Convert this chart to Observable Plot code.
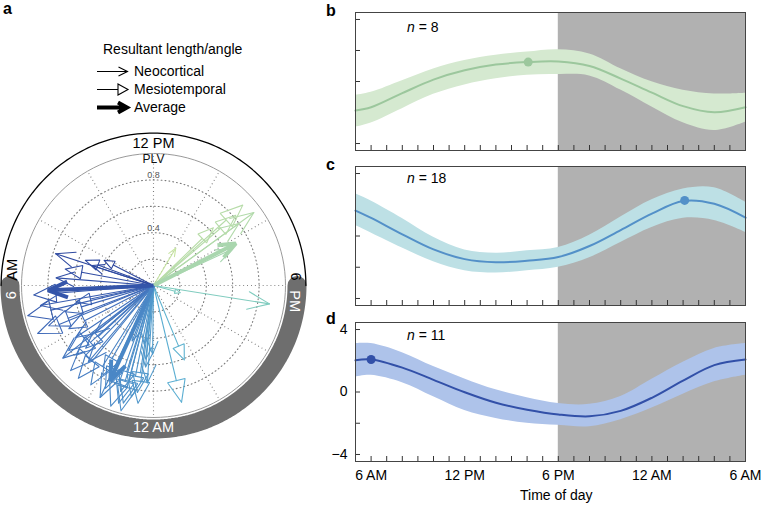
<!DOCTYPE html>
<html><head><meta charset="utf-8">
<script src="https://cdn.jsdelivr.net/npm/d3@7"></script>
<script src="https://cdn.jsdelivr.net/npm/@observablehq/plot@0.6"></script>
<style>
body{margin:0;background:#fff;font-family:"Liberation Sans",Arial,sans-serif;}
#root{position:relative;width:761px;height:505px;overflow:hidden;background:#fff;}
.abs{position:absolute;white-space:nowrap;line-height:1;}
.letter{font-weight:bold;font-size:16px;}
.t14{font-size:14px;}
</style></head><body><div id="root"></div>
<script>
// ---------- DATA: polar panel (a) ----------
// Neocortical resultants: clock hour of angle (unwrapped past 24), PLV length
const neoHour = [14.05, 15.6, 15.6, 16.35, 18.6, 24.05, 24.37, 25.7, 25.4, 24.6, 31.2, 30.3, 31.2, 29.33, 24.24, 24.4, 27.75, 27.4, 26.7, 27.42];
const neoPLV  = [0.33, 0.94, 0.80, 0.66, 0.89, 0.52, 0.62, 0.94, 0.45, 0.45, 0.78, 0.74, 0.49, 0.87, 0.74, 0.56, 0.71, 0.57, 0.76, 0.88];
// Mesiotemporal resultants
const mesHour = [15.07, 15.2, 15.3, 19.0, 22.5, 23.1, 24.57, 24.97, 24.96, 27.5, 27.2, 25.97, 25.67, 25.3, 25.1, 25.15, 24.75, 24.5, 27.15, 26.95, 26.6, 26.15, 31.35, 31.8, 30.7, 29.7, 29.1, 28.5, 28.6, 28.9, 28.2, 29.2];
const mesPLV  = [0.63, 0.91, 0.82, 0.21, 0.61, 0.91, 0.82, 0.98, 0.92, 0.81, 0.79, 0.78, 0.86, 0.97, 0.93, 0.84, 0.86, 0.90, 0.70, 0.90, 0.905, 0.89, 0.55, 0.42, 0.68, 0.91, 0.98, 0.95, 0.85, 0.70, 0.72, 0.60];
// Averages
const avgHour = [16.2, 25.63, 29.82];
const avgPLV  = [0.70, 0.79, 0.80];
// colour by angle (hour)
const colorHours = [14, 16, 18.8, 23, 25.5, 28, 30, 32];
const colorRange = ["#c8e4a2", "#acd7ad", "#7ecbc0", "#5cb0d2", "#4a88c7", "#4170bd", "#3352a8", "#2c459c"];
const gridPLV = [0.2, 0.4, 0.6, 0.8];
const plvTickLabels = [0.4, 0.8];
const spokeHours = [0, 2, 4, 6, 8, 10, 12, 14, 16, 18, 20, 22];
const ringText  = ["12 PM", "12 AM", "AM", "6", "6", "PM"];
const ringHour  = [12, 24, 6.42, 5.74, 17.76, 18.42];
const ringWhite = [false, true, false, true, false, true];
const ringRot   = [0, 0, -90, -90, 90, 90];

// ---------- DATA: time-course panels (b, c, d) ----------
const hours = [5, 6, 8, 10, 12, 14, 16, 18, 20, 22, 24, 26, 28, 30];
const bMean = [-1.87, -1.66, -0.75, 0.12, 0.72, 1.09, 1.25, 1.29, 1.00, 0.19, -0.72, -1.59, -1.98, -1.66];
const bHi   = [-0.90, -0.70, 0.05, 0.81, 1.35, 1.69, 1.90, 2.05, 1.78, 0.83, -0.02, -0.56, -0.80, -0.75];
const bLo   = [-2.95, -2.68, -1.75, -0.83, -0.22, 0.18, 0.41, 0.45, 0.36, -0.55, -1.64, -2.66, -3.16, -2.62];
const cMean = [1.63, 1.16, 0.11, -0.86, -1.48, -1.68, -1.58, -1.35, -0.64, 0.38, 1.43, 2.24, 2.06, 1.17];
const cHi   = [2.70, 2.24, 1.12, -0.08, -0.89, -1.10, -0.95, -0.74, 0.05, 1.22, 2.32, 3.01, 3.09, 2.17];
const cLo   = [0.67, 0.20, -0.77, -1.65, -2.22, -2.37, -2.22, -2.00, -1.39, -0.42, 0.54, 1.13, 1.00, 0.24];
const dMean = [2.03, 2.08, 1.56, 0.78, -0.02, -0.69, -1.13, -1.44, -1.56, -1.21, -0.37, 0.73, 1.72, 2.08];
const dHi   = [3.10, 3.10, 2.52, 1.63, 0.84, 0.14, -0.37, -0.74, -0.79, -0.29, 0.81, 1.90, 2.79, 3.10];
const dLo   = [0.96, 1.07, 0.60, -0.30, -1.19, -1.69, -2.00, -2.13, -2.22, -1.77, -1.03, -0.14, 0.65, 1.07];
const peakHour = [16.07, 26.1, 6.0];
const peakVal  = [1.25, 2.28, 2.08];
const nCounts = [8, 18, 11];
const xTickHours = [6, 12, 18, 24, 30];
const xTickLabels = ["6 AM", "12 PM", "6 PM", "12 AM", "6 AM"];
const minorTickHours = [6,7,8,9,10,11,12,13,14,15,16,17,18,19,20,21,22,23,24,25,26,27,28,29];
const yTicks = [-4, -2, 0, 2, 4];
const yTickLabeled = [-4, 0, 4];
const nightStart = 18, nightEnd = 30;
const xDomain = [5, 30], yDomain = [-4.45, 4.45];

const root = document.getElementById("root");
const FONT = "Liberation Sans, Arial, sans-serif";
function place(el, left, top) { el.style.position = "absolute"; el.style.left = left + "px"; el.style.top = top + "px"; root.appendChild(el); return el; }
function html(cls, text, left, top) { const d = document.createElement("div"); d.className = "abs " + cls; d.innerHTML = text; return place(d, left, top); }

// ---------- polar panel ----------
const S = 132, CX = 153, CY = 155;
function pol(h, r) { const t = (h - 12) / 24 * 2 * Math.PI; return [r * Math.sin(t), r * Math.cos(t)]; }
const HEAD = 0.2, HALF = 22 * Math.PI / 180;
function head(h, r) {
  const [tx, ty] = pol(h, r);
  const L = Math.max(r * HEAD, 0.045);
  const ux = -tx / r, uy = -ty / r;
  const rot = a => [tx + L * (ux * Math.cos(a) - uy * Math.sin(a)), ty + L * (ux * Math.sin(a) + uy * Math.cos(a))];
  return {tip: [tx, ty], b1: rot(HALF), b2: rot(-HALF), base: [tx + L * Math.cos(HALF) * ux, ty + L * Math.cos(HALF) * uy], u: [ux, uy]};
}
const pt = (p, z, hour) => ({x: p[0], y: p[1], z, hour});
const neoRows = neoHour.flatMap((h, i) => { const g = head(h, neoPLV[i]);
  return [pt([0,0], "ns"+i, h), pt(g.tip, "ns"+i, h), pt(g.b1, "nh"+i, h), pt(g.tip, "nh"+i, h), pt(g.b2, "nh"+i, h)]; });
const mesRows = mesHour.flatMap((h, i) => { const g = head(h, mesPLV[i]);
  return [pt([0,0], "ms"+i, h), pt(g.base, "ms"+i, h), pt(g.tip, "mt"+i, h), pt(g.b1, "mt"+i, h), pt(g.b2, "mt"+i, h), pt(g.tip, "mt"+i, h)]; });
const avgRows = avgHour.flatMap((h, i) => { const g = head(h, avgPLV[i]);
  const end = [g.tip[0] + 0.02 * g.u[0], g.tip[1] + 0.02 * g.u[1]];
  return [pt([0,0], "as"+i, h), pt(end, "as"+i, h), pt(g.b1, "ah"+i, h), pt(g.tip, "ah"+i, h), pt(g.b2, "ah"+i, h)]; });
const circleSteps = d3.range(0, 24.001, 0.2);
const gridRows = gridPLV.flatMap(r => circleSteps.map(h => { const p = pol(h, r); return {x: p[0], y: p[1], r}; }));
const unitRows = circleSteps.map(h => { const p = pol(h, 1); return {x: p[0], y: p[1]}; });
const bandR = 143.5 / S, arcR = 152.4 / S, labR = 142 / S;
const bandRows = d3.range(nightStart, nightEnd + 0.001, 0.1).map(h => { const p = pol(h, bandR); return {x: p[0], y: p[1]}; });
const arcRows = d3.range(6, 18.001, 0.1).map(h => { const p = pol(h, arcR); return {x: p[0], y: p[1]}; });
const ringRows = ringText.map((t, i) => ({t, h: ringHour[i], white: ringWhite[i], rot: ringRot[i]}));
const DOTS = "0.9,3";

const polar = Plot.plot({
  width: 310, height: 316, margin: 0,
  x: {domain: [-1, 1], range: [CX - S, CX + S], axis: null},
  y: {domain: [-1, 1], range: [CY + S, CY - S], axis: null},
  color: {type: "linear", domain: colorHours, range: colorRange, interpolate: "rgb"},
  style: {fontFamily: FONT, fontSize: "14px", background: "transparent", overflow: "visible"},
  marks: [
    Plot.line(gridRows, {x: "x", y: "y", z: "r", stroke: "#7a7a7a", strokeWidth: 1.1, strokeDasharray: DOTS}),
    Plot.link(spokeHours, {x1: 0, y1: 0, x2: h => pol(h, 1)[0], y2: h => pol(h, 1)[1], stroke: "#7a7a7a", strokeWidth: 1.1, strokeDasharray: DOTS}),
    Plot.line(unitRows, {x: "x", y: "y", stroke: "#9a9a9a", strokeWidth: 1}),
    Plot.line(bandRows, {x: "x", y: "y", stroke: "#6e6e6e", strokeWidth: 19}),
    Plot.line(arcRows, {x: "x", y: "y", stroke: "#000", strokeWidth: 1.3}),
    Plot.text(ringRows.filter(d => !d.white), {x: d => pol(d.h, labR)[0], y: d => pol(d.h, labR)[1], text: "t", rotate: "rot", fill: "#000", fontSize: 14.5}),
    Plot.text(ringRows.filter(d => d.white), {x: d => pol(d.h, labR)[0], y: d => pol(d.h, labR)[1], text: "t", rotate: "rot", fill: "#fff", fontSize: 14.5}),
    Plot.text(["PLV"], {x: () => pol(12, 0.955)[0], y: () => pol(12, 0.955)[1], text: d => d, fontSize: 12, fill: "#111"}),
    Plot.text(plvTickLabels, {x: 0, y: d => d, dy: -5, text: d => d.toFixed(1), fontSize: 9, fill: "#555"}),
    Plot.line(neoRows, {x: "x", y: "y", z: "z", stroke: "hour", strokeWidth: 1.1, strokeLinejoin: "miter"}),
    Plot.line(mesRows, {x: "x", y: "y", z: "z", stroke: "hour", strokeWidth: 1.1, strokeLinejoin: "miter"}),
    Plot.line(avgRows, {x: "x", y: "y", z: "z", stroke: "hour", strokeWidth: 4, strokeLinejoin: "miter", strokeLinecap: "butt"})
  ]
});
place(polar, 0, 130);

// ---------- legend (a) ----------
const leg = document.createElementNS("http://www.w3.org/2000/svg", "svg");
leg.setAttribute("width", "260"); leg.setAttribute("height", "120");
leg.innerHTML = `
<g font-family="${FONT}" font-size="14" fill="#000">
<text x="103" y="54">Resultant length/angle</text>
<text x="134" y="76">Neocortical</text>
<text x="134" y="94">Mesiotemporal</text>
<text x="134" y="112">Average</text>
</g>
<g fill="none" stroke="#000">
<path d="M97,71.5H127.5M118.5,67L127.5,71.5L118.5,76" stroke-width="1.1"/>
<path d="M97,89.5H118M118,84L128,89.5L118,95Z" stroke-width="1.1" stroke-linejoin="miter"/>
<path d="M97,107.5H125M118,102.5L127,107.5L118,112.5" stroke-width="4" stroke-linejoin="miter"/>
</g>`;
place(leg, 0, 0);

// ---------- time-course panels ----------
function panel(o) {
  const rows = hours.map((h, i) => ({h, m: o.mean[i], lo: o.lo[i], hi: o.hi[i]}));
  const pxPerH = 390 / (xDomain[1] - xDomain[0]);
  const pxPerY = o.frameH / (yDomain[1] - yDomain[0]);
  const marks = [
    Plot.rect([{a: nightStart, b: nightEnd}], {x1: "a", x2: "b", y1: yDomain[0], y2: yDomain[1], fill: "#b1b1b1"}),
    Plot.ruleY(yTicks, {y: d => d, x1: xDomain[0], x2: xDomain[0] + 5 / pxPerH, stroke: "#333"}),
    Plot.areaY(rows, {x: "h", y1: "lo", y2: "hi", fill: o.band, curve: "catmull-rom"}),
    Plot.line(rows, {x: "h", y: "m", stroke: o.line, strokeWidth: 2, curve: "catmull-rom"}),
    Plot.dot([{h: o.peakH, v: o.peakV}], {x: "h", y: "v", r: 4.5, fill: o.line, stroke: "none"}),
    Plot.ruleX(minorTickHours, {x: d => d, y1: yDomain[0], y2: yDomain[0] + 5 / pxPerY, stroke: "#333"}),
    Plot.frame({stroke: "#444"})
  ];
  if (o.axis) {
    marks.push(Plot.axisX(xTickHours, {tickSize: 0, tickPadding: 9, tickFormat: d => xTickLabels[xTickHours.indexOf(d)], fontSize: 14, label: null}));
    marks.push(Plot.axisY(yTickLabeled, {tickSize: 0, tickPadding: 8, fontSize: 14, label: null}));
  }
  const p = Plot.plot({
    width: 430, height: o.frameH + 5 + o.mb,
    marginLeft: 30, marginRight: 10, marginTop: 5, marginBottom: o.mb,
    x: {domain: xDomain, axis: null},
    y: {domain: yDomain, axis: null},
    style: {fontFamily: FONT, fontSize: "14px", background: "transparent", overflow: "visible"},
    marks
  });
  place(p, 325, o.top - 5);
}
panel({mean: bMean, lo: bLo, hi: bHi, band: "#d5e9d0", line: "#9cc79d", peakH: peakHour[0], peakV: peakVal[0], top: 12, frameH: 138, mb: 5});
panel({mean: cMean, lo: cLo, hi: cHi, band: "#bde0e5", line: "#5390c8", peakH: peakHour[1], peakV: peakVal[1], top: 166, frameH: 139, mb: 5});
panel({mean: dMean, lo: dLo, hi: dHi, band: "#aec3ea", line: "#3250a8", peakH: peakHour[2], peakV: peakVal[2], top: 322, frameH: 139, mb: 44, axis: true});

// ---------- texts ----------
html("letter", "a", 3, 1);
html("letter", "b", 326, 3);
html("letter", "c", 326, 157);
html("letter", "d", 326, 311);
html("t14", `<i>n</i> = ${nCounts[0]}`, 407, 20);
html("t14", `<i>n</i> = ${nCounts[1]}`, 407, 171);
html("t14", `<i>n</i> = ${nCounts[2]}`, 407, 328);
html("t14", "Time of day", 520, 488);
</script></body></html>
